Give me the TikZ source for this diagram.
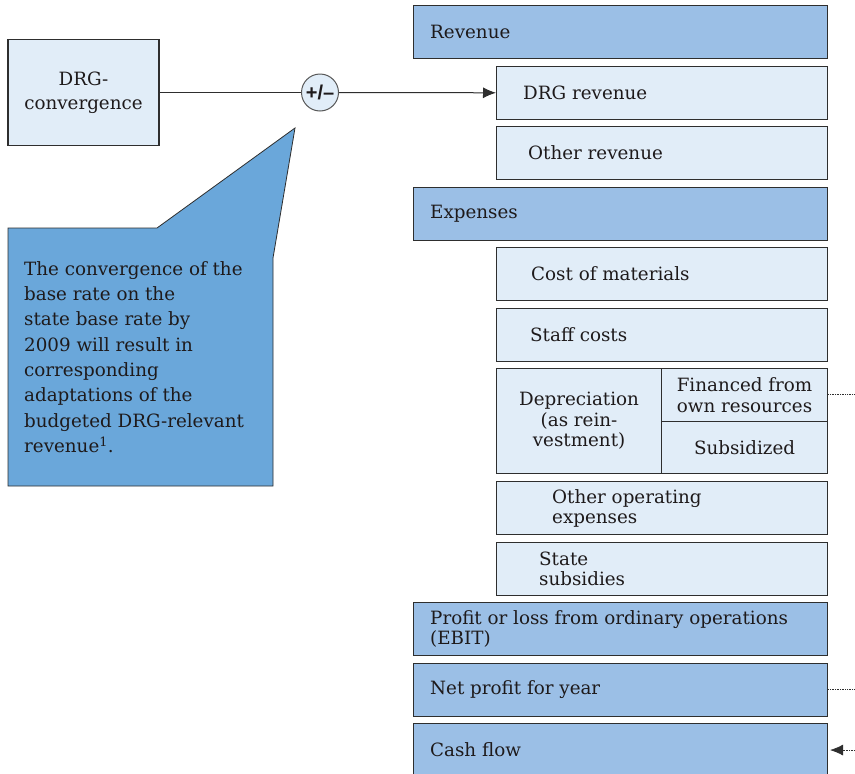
\documentclass[tikz,border=0pt]{standalone}
\usepackage{fontspec}
\setmainfont{DejaVu Serif}
\newfontfamily\pmfont{Liberation Sans}
\usetikzlibrary{arrows.meta, positioning, calc}
\definecolor{hdblue}{HTML}{9BBFE6}
\definecolor{subblue}{HTML}{E1EDF8}
\definecolor{noteblue}{HTML}{6AA7DA}
\definecolor{edgegray}{HTML}{2E2E2E}
\definecolor{inkgray}{HTML}{1E1A1B}

\begin{document}
\begin{tikzpicture}[
  x=1pt, y=-1pt,
  >={Latex[length=13pt, width=11pt]},
  hdbox/.style={draw=edgegray, line width=1.1pt, fill=hdblue, anchor=north west,
    minimum width=414pt, minimum height=53pt, inner sep=0pt},
  subbox/.style={hdbox, fill=subblue, minimum width=331pt},
  txt/.style={font=\fontsize{18.3}{20}\selectfont, text=inkgray, inner sep=0pt,
    anchor=west, align=left},
]

% Canvas: 855 x 774, y grows downward
% Header column at x=413, sub column at x=496, right edge x=827
% Box height 53, row step about 60.5

\pgfmathsetmacro{\hdx}{413}   % left edge of header boxes
\pgfmathsetmacro{\subx}{496}  % left edge of sub boxes

\fill[white] (0,0) rectangle (855,774);
\clip (0,0) rectangle (855,774);

% --- DRG-convergence ---
\node[draw=edgegray, line width=1.1pt, fill=subblue, minimum width=151pt,
  minimum height=106pt, inner sep=0pt, align=center,
  font=\fontsize{18.3}{24}\selectfont, text=inkgray] (conv) at (83.5,92.5)
  {DRG-\\convergence};

\node[circle, draw=edgegray!80, line width=1pt, fill=subblue, minimum size=37pt,
  inner sep=0pt, font=\pmfont\bfseries\fontsize{20}{20}\selectfont, text=inkgray]
  (pm) at (320,92.5) {+/–};

% --- Note callout ---
\draw[edgegray, line width=0.8pt, fill=noteblue]
  (8,228) -- (157,228) -- (295,128) -- (273,258) -- (273,486) -- (8,486) -- cycle;
\node[txt, font=\fontsize{18.3}{25.3}\selectfont] (notelbl) at (24,357)
  {The convergence of the\\base rate on the\\state base rate by\\
   2009 will result in\\corresponding\\adaptations of the\\
   budgeted DRG-relevant\\revenue\textsuperscript{1}.};

% --- Revenue ---
\node[hdbox] (rev) at (\hdx,5) {};
\node[txt, right=17pt of rev.west] (revlbl) {Revenue};

\node[subbox] (drgrev) at (\subx,66) {};
\node[txt, right=27pt of drgrev.west] (drgrevlbl) {DRG revenue};

\node[subbox] (othrev) at (\subx,126) {};
\node[txt, right=32pt of othrev.west] (othrevlbl) {Other revenue};

% --- Expenses ---
\node[hdbox] (exp) at (\hdx,186.5) {};
\node[txt, right=17pt of exp.west] (explbl) {Expenses};

\node[subbox] (mat) at (\subx,247) {};
\node[txt, right=35pt of mat.west] (matlbl) {Cost of materials};

\node[subbox] (staff) at (\subx,307.5) {};
\node[txt, right=34pt of staff.west] (stafflbl) {Staff costs};

% Depreciation block: left half plus two stacked cells
\node[subbox, minimum width=165pt, minimum height=105pt, align=center,
  font=\fontsize{18.3}{20.5}\selectfont, text=inkgray] (dep) at (\subx,368)
  {Depreciation\\(as rein-\\vestment)};
\node[subbox, minimum width=166pt, minimum height=52.5pt, align=center,
  font=\fontsize{18.3}{21}\selectfont, text=inkgray] (fin) at (661,368)
  {Financed from\\own resources};
\node[subbox, minimum width=166pt, minimum height=52.5pt,
  font=\fontsize{18.3}{20}\selectfont, text=inkgray] (sub) at (661,420.5)
  {Subsidized};

\node[subbox] (opex) at (\subx,481) {};
\node[txt, right=56pt of opex.west] (opexlbl) {Other operating\\expenses};

\node[subbox] (state) at (\subx,541.5) {};
\node[txt, right=43pt of state.west] (statelbl) {State\\subsidies};

% --- Results ---
\node[hdbox] (ebit) at (\hdx,602) {};
\node[txt, right=17pt of ebit.west] (ebitlbl)
  {Profit or loss from ordinary operations\\(EBIT)};

\node[hdbox] (net) at (\hdx,662.5) {};
\node[txt, right=17pt of net.west] (netlbl) {Net profit for year};

\node[hdbox] (cash) at (\hdx,723) {};
\node[txt, right=17pt of cash.west] (cashlbl) {Cash flow};

% --- Connectors ---
\draw[edgegray, line width=1pt] (conv) -- (pm);
\draw[edgegray, line width=1pt, ->] (pm) -- (drgrev);

\coordinate (finout) at ($(fin.east)+(30,0)$);
\coordinate (netout) at ($(net.east)+(30,0)$);
\coordinate (cashin) at ($(cash.east)+(30,0)$);
\draw[edgegray, line width=0.7pt, densely dotted] (fin.east) -- (finout);
\draw[edgegray, line width=0.7pt, densely dotted] (net.east) -- (netout);
\draw[edgegray, line width=0.7pt, densely dotted, ->, shorten >=2pt]
  (cashin) -- (cash.east);

\end{tikzpicture}
\end{document}
